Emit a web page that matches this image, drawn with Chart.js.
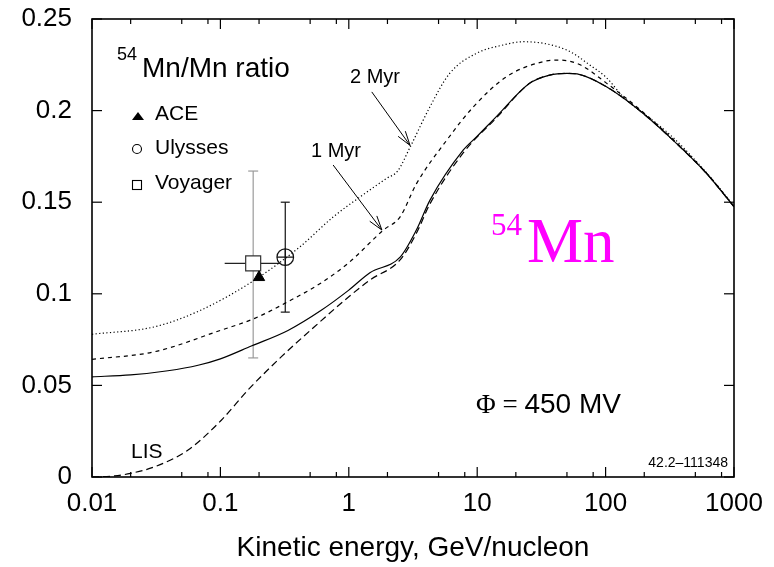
<!DOCTYPE html>
<html>
<head>
<meta charset="utf-8">
<script src="https://cdn.jsdelivr.net/npm/chart.js@4.4.1/dist/chart.umd.min.js"></script>
<style>
  html, body { margin: 0; padding: 0; background: #fff; }
  #wrap { width: 774px; height: 567px; }
</style>
</head>
<body>
<div id="wrap"><canvas id="chart" width="774" height="567"></canvas></div>
<script>
/* ===== Data: kinetic energy (GeV/nucleon) vs 54Mn/Mn ratio ===== */
// modulated, phi = 450 MV (solid)
const phiE     = [0.01, 0.02, 0.039, 0.067, 0.1, 0.174, 0.336, 0.61, 1.0, 1.46, 2.51, 3.36, 4.28, 7.8, 10, 14.1, 25.6, 36.7, 50, 60, 101.5, 182, 333, 609, 1000];
const phiRatio = [0.0547, 0.0557, 0.0580, 0.0610, 0.0645, 0.0715, 0.0800, 0.0910, 0.1020, 0.1115, 0.1200, 0.1348, 0.1510, 0.1785, 0.1860, 0.1967, 0.2149, 0.2194, 0.2203, 0.2200, 0.2130, 0.2003, 0.1840, 0.1658, 0.1475];

// local interstellar spectrum (long dashes)
const lisE     = [0.01, 0.015, 0.02, 0.0308, 0.056, 0.1016, 0.164, 0.299, 0.54, 1.0, 1.46, 2.51, 3.36, 4.28, 7.8, 14.1, 25.6, 36.7, 50, 60, 101.5, 182, 333, 609, 1000];
const lisRatio = [0.0, 0.0006, 0.0020, 0.0056, 0.0147, 0.0310, 0.0475, 0.0657, 0.0820, 0.0984, 0.1075, 0.1185, 0.1330, 0.1490, 0.1770, 0.1960, 0.2149, 0.2194, 0.2203, 0.2200, 0.2130, 0.2003, 0.1840, 0.1658, 0.1475];

// 1 Myr (short dashes)
const myr1E     = [0.01, 0.0308, 0.1016, 0.185, 0.336, 0.61, 1.0, 1.86, 2.51, 3.36, 5.81, 9.33, 16.9, 32.5, 43.9, 63.3, 101.5, 182, 333, 609, 1000];
const myr1Ratio = [0.0642, 0.0684, 0.0802, 0.0866, 0.0957, 0.1060, 0.1170, 0.1348, 0.1420, 0.1600, 0.1840, 0.2020, 0.2185, 0.2267, 0.2276, 0.2250, 0.2150, 0.2010, 0.1845, 0.1660, 0.1478];

// 2 Myr (dotted)
const myr2E     = [0.01, 0.0308, 0.07, 0.18, 0.417, 0.757, 1.23, 1.97, 2.4, 3.0, 4.28, 6.1, 9.9, 15.9, 22.9, 49.7, 75, 101.5, 137, 249, 333, 609, 1000];
const myr2Ratio = [0.0779, 0.0820, 0.0910, 0.1070, 0.1257, 0.1420, 0.1530, 0.1630, 0.1670, 0.1800, 0.2020, 0.2203, 0.2313, 0.2358, 0.2376, 0.2331, 0.2250, 0.2180, 0.2076, 0.1930, 0.1855, 0.1662, 0.1480];

// measurements
const aceE = [0.2],  aceRatio = [0.109];
const ulyE = [0.32], ulyRatio = [0.120], ulyLow = [0.090], ulyHigh = [0.150];
const voyE = [0.18], voyRatio = [0.1166], voyLow = [0.065], voyHigh = [0.167];
const voyELow = [0.108], voyEHigh = [0.29];

// axis ticks
const xTickValues  = [0.01, 0.1, 1, 10, 100, 1000];
const xMinorTicks  = [0.02, 0.05, 0.08, 0.2, 0.5, 0.8, 2, 5, 8, 20, 50, 80, 200, 500, 800];
const yTickValues  = [0, 0.05, 0.1, 0.15, 0.2, 0.25];

/* ===== Helpers ===== */
const toXY = (es, rs) => es.map((e, i) => ({ x: e, y: rs[i] }));

function curve(es, rs, dash){
  return {
    data: toXY(es, rs), showLine: true, borderColor: "#000", borderWidth: 1.2,
    borderDash: dash, pointRadius: 0, cubicInterpolationMode: "monotone", fill: false
  };
}

function seg(ctx, x0, y0, x1, y1){
  ctx.beginPath(); ctx.moveTo(x0, y0); ctx.lineTo(x1, y1); ctx.stroke();
}

function arrow(ctx, x0, y0, x1, y1){
  const a = Math.atan2(y1 - y0, x1 - x0), L = 15, w = 0.3;
  seg(ctx, x0, y0, x1, y1);
  seg(ctx, x1, y1, x1 - L * Math.cos(a - w), y1 - L * Math.sin(a - w));
  seg(ctx, x1, y1, x1 - L * Math.cos(a + w), y1 - L * Math.sin(a + w));
}

/* ===== Error bars (under the markers) ===== */
const errorBars = {
  id: "errorBars",
  beforeDatasetsDraw(chart){
    const { ctx, scales: { x, y } } = chart;
    ctx.save();
    ctx.lineWidth = 1.2;
    // Voyager
    voyE.forEach((e, i) => {
      const px = x.getPixelForValue(e);
      ctx.strokeStyle = "#9a9a9a";
      seg(ctx, px, y.getPixelForValue(voyLow[i]), px, y.getPixelForValue(voyHigh[i]));
      seg(ctx, px - 5, y.getPixelForValue(voyLow[i]), px + 5, y.getPixelForValue(voyLow[i]));
      seg(ctx, px - 5, y.getPixelForValue(voyHigh[i]), px + 5, y.getPixelForValue(voyHigh[i]));
      ctx.strokeStyle = "#222";
      const py = y.getPixelForValue(voyRatio[i]);
      seg(ctx, x.getPixelForValue(voyELow[i]), py, x.getPixelForValue(voyEHigh[i]), py);
    });
    // Ulysses
    ctx.strokeStyle = "#111";
    ulyE.forEach((e, i) => {
      const px = x.getPixelForValue(e);
      const lo = y.getPixelForValue(ulyLow[i]), hi = y.getPixelForValue(ulyHigh[i]);
      seg(ctx, px, lo, px, hi);
      seg(ctx, px - 4.5, lo, px + 4.5, lo);
      seg(ctx, px - 4.5, hi, px + 4.5, hi);
    });
    ctx.restore();
  }
};

/* ===== Frame, inner ticks and labels ===== */
const frameAndText = {
  id: "frameAndText",
  afterDraw(chart){
    const { ctx, chartArea: { left, right, top, bottom }, scales: { x, y } } = chart;
    ctx.save();
    ctx.strokeStyle = "#000";
    ctx.lineWidth = 1.6;
    ctx.strokeRect(left, top, right - left, bottom - top);

    ctx.lineWidth = 1.2;
    xTickValues.forEach(v => {
      const px = x.getPixelForValue(v);
      seg(ctx, px, bottom, px, bottom - 10);
      seg(ctx, px, top, px, top + 10);
    });
    xMinorTicks.forEach(v => {
      const px = x.getPixelForValue(v);
      seg(ctx, px, bottom, px, bottom - 5);
      seg(ctx, px, top, px, top + 5);
    });
    yTickValues.forEach(v => {
      const py = y.getPixelForValue(v);
      seg(ctx, left, py, left + 10, py);
      seg(ctx, right, py, right - 10, py);
    });

    // curve labels with arrows
    ctx.fillStyle = "#000";
    ctx.textBaseline = "alphabetic";
    ctx.textAlign = "left";
    ctx.font = "20px 'Liberation Sans', Arial, sans-serif";
    ctx.fillText("2 Myr", 350, 83);
    ctx.fillText("1 Myr", 311, 157);
    ctx.lineWidth = 1;
    arrow(ctx, x.getPixelForValue(1.51), y.getPixelForValue(0.2102), x.getPixelForValue(3.0), y.getPixelForValue(0.181));
    arrow(ctx, x.getPixelForValue(0.755), y.getPixelForValue(0.1703), x.getPixelForValue(1.81), y.getPixelForValue(0.1348));

    ctx.font = "21px 'Liberation Sans', Arial, sans-serif";
    ctx.fillText("LIS", 131, 458);

    // panel title
    ctx.font = "18px 'Liberation Sans', Arial, sans-serif";
    ctx.fillText("54", 117, 60);
    ctx.font = "28px 'Liberation Sans', Arial, sans-serif";
    ctx.fillText("Mn/Mn ratio", 142, 77);

    // legend
    ctx.font = "21px 'Liberation Sans', Arial, sans-serif";
    ctx.fillText("ACE", 155, 120);
    ctx.fillText("Ulysses", 155, 154);
    ctx.fillText("Voyager", 155, 189);
    ctx.beginPath();
    ctx.moveTo(132, 120); ctx.lineTo(144, 120); ctx.lineTo(138, 112); ctx.closePath(); ctx.fill();
    ctx.lineWidth = 1.1;
    ctx.beginPath(); ctx.arc(137, 149, 4.5, 0, Math.PI * 2); ctx.stroke();
    ctx.strokeRect(132.5, 180.5, 9, 9);

    // isotope tag
    ctx.fillStyle = "#ff00ff";
    ctx.font = "31px 'Liberation Serif', 'Times New Roman', serif";
    ctx.fillText("54", 491, 235);
    ctx.font = "63px 'Liberation Serif', 'Times New Roman', serif";
    ctx.fillText("Mn", 527, 262);

    // modulation potential
    ctx.fillStyle = "#000";
    let cx = 476;
    ctx.font = "27px 'Liberation Serif', 'Times New Roman', serif";
    ctx.fillText("\u03A6 =", cx, 413);
    cx += ctx.measureText("\u03A6 = ").width;
    ctx.font = "28px 'Liberation Sans', Arial, sans-serif";
    ctx.fillText("450 MV", cx, 413);

    ctx.font = "14px 'Liberation Sans', Arial, sans-serif";
    ctx.textAlign = "right";
    ctx.fillText("42.2\u2013111348", 728, 467);
    ctx.restore();
  }
};

/* ===== Chart ===== */
new Chart(document.getElementById("chart"), {
  type: "scatter",
  data: {
    datasets: [
      { data: toXY(aceE, aceRatio), pointStyle: "triangle", pointRadius: 6.5, backgroundColor: "#000", borderColor: "#000", borderWidth: 1 },
      { data: toXY(ulyE, ulyRatio), pointStyle: "cross", pointRadius: 8.3, borderColor: "#111", borderWidth: 1.1 },
      { data: toXY(ulyE, ulyRatio), pointStyle: "circle", pointRadius: 8.3, backgroundColor: "rgba(0,0,0,0)", borderColor: "#111", borderWidth: 1.2 },
      { data: toXY(voyE, voyRatio), pointStyle: "rect", pointRadius: 10.6, backgroundColor: "#fff", borderColor: "#333", borderWidth: 1.2 },
      curve(phiE, phiRatio, []),
      curve(lisE, lisRatio, [7, 4]),
      curve(myr1E, myr1Ratio, [4, 4]),
      curve(myr2E, myr2Ratio, [1.2, 2.4])
    ]
  },
  options: {
    responsive: false,
    devicePixelRatio: 1,
    animation: false,
    layout: { padding: { top: 19, right: 40, left: 0, bottom: 0 } },
    plugins: { legend: { display: false }, tooltip: { enabled: false } },
    scales: {
      x: {
        type: "logarithmic", min: 0.01, max: 1000,
        grid: { display: false, drawTicks: false }, border: { display: false },
        afterBuildTicks: s => { s.ticks = xTickValues.map(v => ({ value: v })); },
        afterFit: s => { s.height = 90; s.paddingLeft = 0; s.paddingRight = 0; },
        ticks: {
          padding: 11, maxRotation: 0, autoSkip: false, color: "#000",
          font: { family: "'Liberation Sans', Arial, sans-serif", size: 26 },
          callback: v => String(v)
        },
        title: {
          display: true, text: "Kinetic energy, GeV/nucleon", color: "#000",
          font: { family: "'Liberation Sans', Arial, sans-serif", size: 28 },
          padding: { top: 0, bottom: 2 }
        }
      },
      y: {
        min: 0, max: 0.25,
        grid: { display: false, drawTicks: false }, border: { display: false },
        afterBuildTicks: s => { s.ticks = yTickValues.map(v => ({ value: v })); },
        afterFit: s => { s.width = 92; s.paddingTop = 0; s.paddingBottom = 0; },
        ticks: {
          padding: 20, color: "#000",
          font: { family: "'Liberation Sans', Arial, sans-serif", size: 26 },
          callback: v => String(+v.toFixed(2))
        }
      }
    }
  },
  plugins: [errorBars, frameAndText]
});
</script>
</body>
</html>
